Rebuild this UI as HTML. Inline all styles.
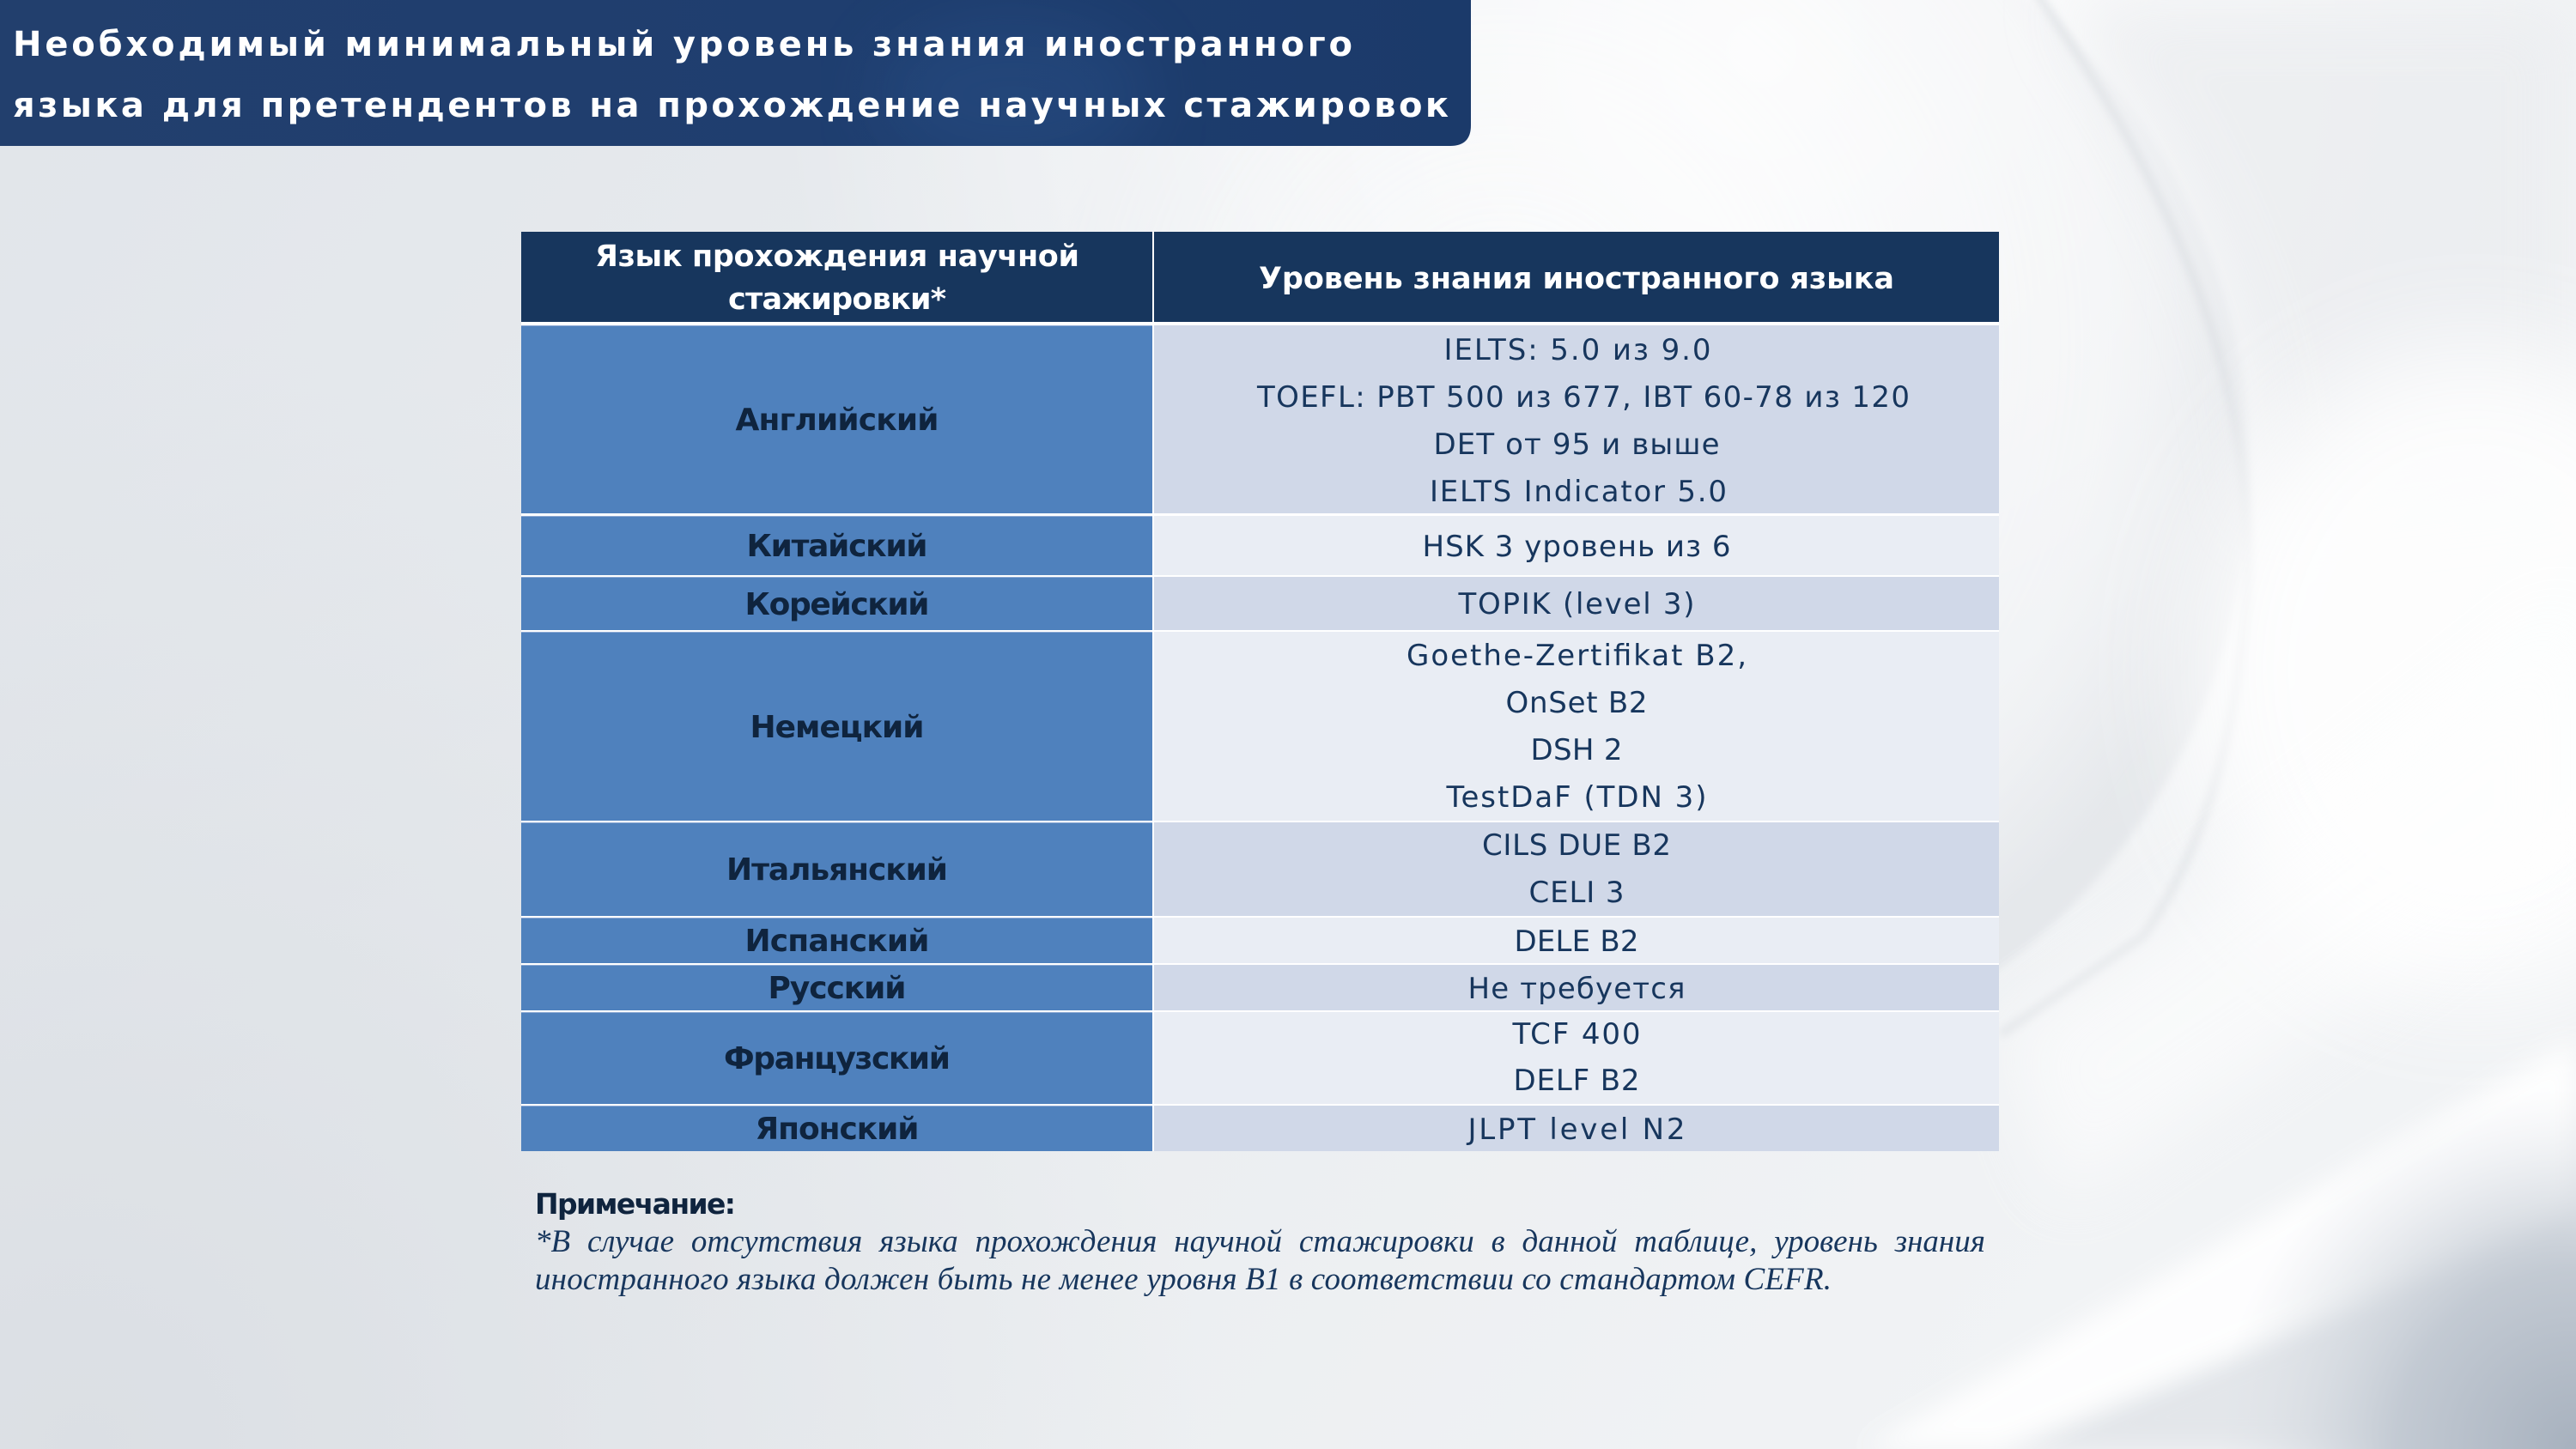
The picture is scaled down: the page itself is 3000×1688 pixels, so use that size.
<!DOCTYPE html>
<html><head><meta charset="utf-8">
<style>
html,body{margin:0;padding:0;}
body{width:3000px;height:1688px;position:relative;overflow:hidden;background:#eceef1;}
svg{position:absolute;left:0;top:0;}
.note1{position:absolute;left:623px;top:1427px;width:1689px;display:flex;justify-content:space-between;font-family:"Liberation Serif",serif;font-style:italic;font-size:37px;color:#17365d;line-height:40px;white-space:nowrap;}
</style></head><body>
<svg width="3000" height="1688" viewBox="0 0 3000 1688">
<defs>
 <linearGradient id="bg" x1="0" y1="0" x2="1" y2="0.4">
  <stop offset="0" stop-color="#e1e5ea"/>
  <stop offset="0.5" stop-color="#e9ecef"/>
  <stop offset="1" stop-color="#f1f3f5"/>
 </linearGradient>
 <radialGradient id="glow1" cx="2050" cy="60" r="1150" gradientUnits="userSpaceOnUse">
  <stop offset="0" stop-color="#ffffff" stop-opacity="1"/>
  <stop offset="0.5" stop-color="#ffffff" stop-opacity="0.6"/>
  <stop offset="1" stop-color="#ffffff" stop-opacity="0"/>
 </radialGradient>
 <radialGradient id="dark1" cx="100" cy="1688" r="1300" gradientUnits="userSpaceOnUse">
  <stop offset="0" stop-color="#dbdfe4" stop-opacity="1"/>
  <stop offset="1" stop-color="#dbdfe4" stop-opacity="0"/>
 </radialGradient>
 <radialGradient id="sphere" cx="1750" cy="400" r="880" gradientUnits="userSpaceOnUse">
  <stop offset="0" stop-color="#f4f5f7" stop-opacity="0"/>
  <stop offset="0.8" stop-color="#eceef1" stop-opacity="0.3"/>
  <stop offset="1" stop-color="#dfe2e6" stop-opacity="0.65"/>
 </radialGradient>
 <radialGradient id="corner" cx="3000" cy="1688" r="420" gradientUnits="userSpaceOnUse">
  <stop offset="0" stop-color="#a7b1be"/>
  <stop offset="0.5" stop-color="#c3cad3"/>
  <stop offset="1" stop-color="#dfe3e8" stop-opacity="0"/>
 </radialGradient>
 <filter id="b60" x="-30%" y="-30%" width="160%" height="160%"><feGaussianBlur stdDeviation="60"/></filter>
 <filter id="b40" x="-20%" y="-20%" width="140%" height="140%"><feGaussianBlur stdDeviation="40"/></filter>
 <filter id="b15" x="-20%" y="-20%" width="140%" height="140%"><feGaussianBlur stdDeviation="15"/></filter>
 <filter id="b5" x="-20%" y="-20%" width="140%" height="140%"><feGaussianBlur stdDeviation="5"/></filter>
 <linearGradient id="banner" x1="0" y1="0" x2="1" y2="0">
  <stop offset="0" stop-color="#223f6d"/>
  <stop offset="0.55" stop-color="#1f3e6f"/>
  <stop offset="1" stop-color="#1b3a6a"/>
 </linearGradient>
 <clipPath id="bclip"><path d="M0 0 H1713 V146 Q1713 170 1689 170 H0 Z"/></clipPath>
</defs>

<!-- background -->
<rect width="3000" height="1688" fill="url(#bg)"/>
<rect width="3000" height="1688" fill="url(#dark1)"/>
<rect width="3000" height="1688" fill="url(#glow1)"/>
<circle cx="1900" cy="550" r="720" fill="url(#sphere)" filter="url(#b5)"/>
<path d="M2370 -10 C 2520 200, 2640 450, 2615 720 C 2600 880, 2560 1000, 2496 1091 L 2330 1205" fill="none" stroke="#d4d8dd" stroke-width="9" opacity="0.65" filter="url(#b5)"/>
<path d="M2400 0 C 2540 200, 2640 420, 2630 600 L 3000 560 L 3000 0 Z" fill="#eaecef" opacity="0.75" filter="url(#b40)"/>
<ellipse cx="2880" cy="780" rx="330" ry="380" fill="#ffffff" opacity="0.85" filter="url(#b60)"/>
<path d="M2330 1688 L3000 1415 L3000 1688 Z" fill="#e3e6ea" filter="url(#b15)"/>
<path d="M2170 1688 L2330 1688 L3000 1410 L3000 1210 Z" fill="#ffffff" opacity="0.9" filter="url(#b15)"/>
<path d="M2330 1205 L2496 1091 L3000 700 L3000 1000 L2400 1400 Z" fill="#ffffff" opacity="0.55" filter="url(#b40)"/>
<rect x="2500" y="1250" width="500" height="438" fill="url(#corner)"/>

<!-- banner -->
<path d="M0 0 H1713 V146 Q1713 170 1689 170 H0 Z" fill="url(#banner)"/>
<g clip-path="url(#bclip)">
 <ellipse cx="1180" cy="110" rx="160" ry="90" fill="#2d5a94" opacity="0.3" filter="url(#b40)"/>
</g>
<g font-family="DejaVu Sans, Liberation Sans, sans-serif" font-weight="bold" font-size="40" fill="#ffffff">
 <text x="15" y="65" textLength="1560" lengthAdjust="spacing">Необходимый минимальный уровень знания иностранного</text>
 <text x="15" y="136" textLength="1672" lengthAdjust="spacing">языка для претендентов на прохождение научных стажировок</text>
</g>

<!-- table -->
<rect x="607" y="270" width="1721" height="1071" fill="#ffffff"/>
<rect x="607" y="270" width="735" height="105" fill="#17365d"/>
<rect x="1344" y="270" width="984" height="105" fill="#17365d"/>

<g fill="#4f81bd">
 <rect x="607" y="379" width="735" height="219"/>
 <rect x="607" y="601" width="735" height="69"/>
 <rect x="607" y="672" width="735" height="62"/>
 <rect x="607" y="736" width="735" height="220"/>
 <rect x="607" y="958" width="735" height="109"/>
 <rect x="607" y="1069" width="735" height="53"/>
 <rect x="607" y="1124" width="735" height="53"/>
 <rect x="607" y="1179" width="735" height="107"/>
 <rect x="607" y="1288" width="735" height="53"/>
</g>
<g fill="#8eaad4">
 <rect x="607" y="379" width="735" height="1"/>
 <rect x="607" y="601" width="735" height="1"/>
 <rect x="607" y="672" width="735" height="1"/>
 <rect x="607" y="736" width="735" height="1"/>
 <rect x="607" y="958" width="735" height="1"/>
 <rect x="607" y="1069" width="735" height="1"/>
 <rect x="607" y="1124" width="735" height="1"/>
 <rect x="607" y="1179" width="735" height="1"/>
 <rect x="607" y="1288" width="735" height="1"/>
</g>
<rect x="1344" y="379" width="984" height="219" fill="#d0d8e8"/>
<rect x="1344" y="601" width="984" height="69" fill="#e9edf4"/>
<rect x="1344" y="672" width="984" height="62" fill="#d0d8e8"/>
<rect x="1344" y="736" width="984" height="220" fill="#e9edf4"/>
<rect x="1344" y="958" width="984" height="109" fill="#d0d8e8"/>
<rect x="1344" y="1069" width="984" height="53" fill="#e9edf4"/>
<rect x="1344" y="1124" width="984" height="53" fill="#d0d8e8"/>
<rect x="1344" y="1179" width="984" height="107" fill="#e9edf4"/>
<rect x="1344" y="1288" width="984" height="53" fill="#d0d8e8"/>

<!-- header text -->
<g font-family="DejaVu Sans, Liberation Sans, sans-serif" font-weight="bold" font-size="35" fill="#ffffff" text-anchor="middle">
 <text x="975" y="310" textLength="564" lengthAdjust="spacing">Язык прохождения научной</text>
 <text x="975" y="360" textLength="254" lengthAdjust="spacing">стажировки*</text>
 <text x="1836" y="336" textLength="740" lengthAdjust="spacing">Уровень знания иностранного языка</text>
</g>

<!-- left column -->
<g font-family="DejaVu Sans, Liberation Sans, sans-serif" font-weight="bold" font-size="36" fill="#0f243e" text-anchor="middle">
 <text x="975" y="501" textLength="237" lengthAdjust="spacing">Английский</text>
 <text x="975" y="648" textLength="211" lengthAdjust="spacing">Китайский</text>
 <text x="975" y="716" textLength="215" lengthAdjust="spacing">Корейский</text>
 <text x="975" y="859" textLength="203" lengthAdjust="spacing">Немецкий</text>
 <text x="975" y="1025" textLength="258" lengthAdjust="spacing">Итальянский</text>
 <text x="975" y="1108" textLength="215" lengthAdjust="spacing">Испанский</text>
 <text x="975" y="1163" textLength="161" lengthAdjust="spacing">Русский</text>
 <text x="975" y="1245" textLength="264" lengthAdjust="spacing">Французский</text>
 <text x="975" y="1327" textLength="191" lengthAdjust="spacing">Японский</text>
</g>

<!-- right column -->
<g font-family="DejaVu Sans, Liberation Sans, sans-serif" font-size="34" fill="#17365d" text-anchor="middle">
 <text x="1837" y="419" textLength="311" lengthAdjust="spacing">IELTS: 5.0 из 9.0</text>
 <text x="1844" y="474" textLength="760" lengthAdjust="spacing">TOEFL: PBT 500 из 677, IBT 60-78 из 120</text>
 <text x="1836" y="529" textLength="333" lengthAdjust="spacing">DET от 95 и выше</text>
 <text x="1838" y="584" textLength="346" lengthAdjust="spacing">IELTS Indicator 5.0</text>
 <text x="1836" y="648" textLength="359" lengthAdjust="spacing">HSK 3 уровень из 6</text>
 <text x="1836" y="715" textLength="275" lengthAdjust="spacing">TOPIK (level 3)</text>
 <text x="1836" y="775" textLength="396" lengthAdjust="spacing">Goethe-Zertifikat B2,</text>
 <text x="1836" y="830" textLength="165" lengthAdjust="spacing">OnSet B2</text>
 <text x="1836" y="885" textLength="107" lengthAdjust="spacing">DSH 2</text>
 <text x="1836" y="940" textLength="303" lengthAdjust="spacing">TestDaF (TDN 3)</text>
 <text x="1836" y="996" textLength="220" lengthAdjust="spacing">CILS DUE B2</text>
 <text x="1836" y="1051" textLength="111" lengthAdjust="spacing">CELI 3</text>
 <text x="1836" y="1108" textLength="145" lengthAdjust="spacing">DELE B2</text>
 <text x="1836" y="1163" textLength="253" lengthAdjust="spacing">Не требуется</text>
 <text x="1836" y="1216" textLength="149" lengthAdjust="spacing">TCF 400</text>
 <text x="1836" y="1270" textLength="147" lengthAdjust="spacing">DELF B2</text>
 <text x="1836" y="1327" textLength="253" lengthAdjust="spacing">JLPT level N2</text>
</g>

<!-- note -->
<text x="623" y="1414" font-family="DejaVu Sans, Liberation Sans, sans-serif" font-weight="bold" font-size="33" fill="#0f243e" textLength="234" lengthAdjust="spacing">Примечание:</text>
<text x="623" y="1502" font-family="Liberation Serif, serif" font-style="italic" font-size="37" fill="#17365d" textLength="1510" lengthAdjust="spacing">иностранного языка должен быть не менее уровня В1 в соответствии со стандартом CEFR.</text>
</svg>
<div class="note1"><span>*В</span><span>случае</span><span>отсутствия</span><span>языка</span><span>прохождения</span><span>научной</span><span>стажировки</span><span>в</span><span>данной</span><span>таблице,</span><span>уровень</span><span>знания</span></div>
</body></html>
